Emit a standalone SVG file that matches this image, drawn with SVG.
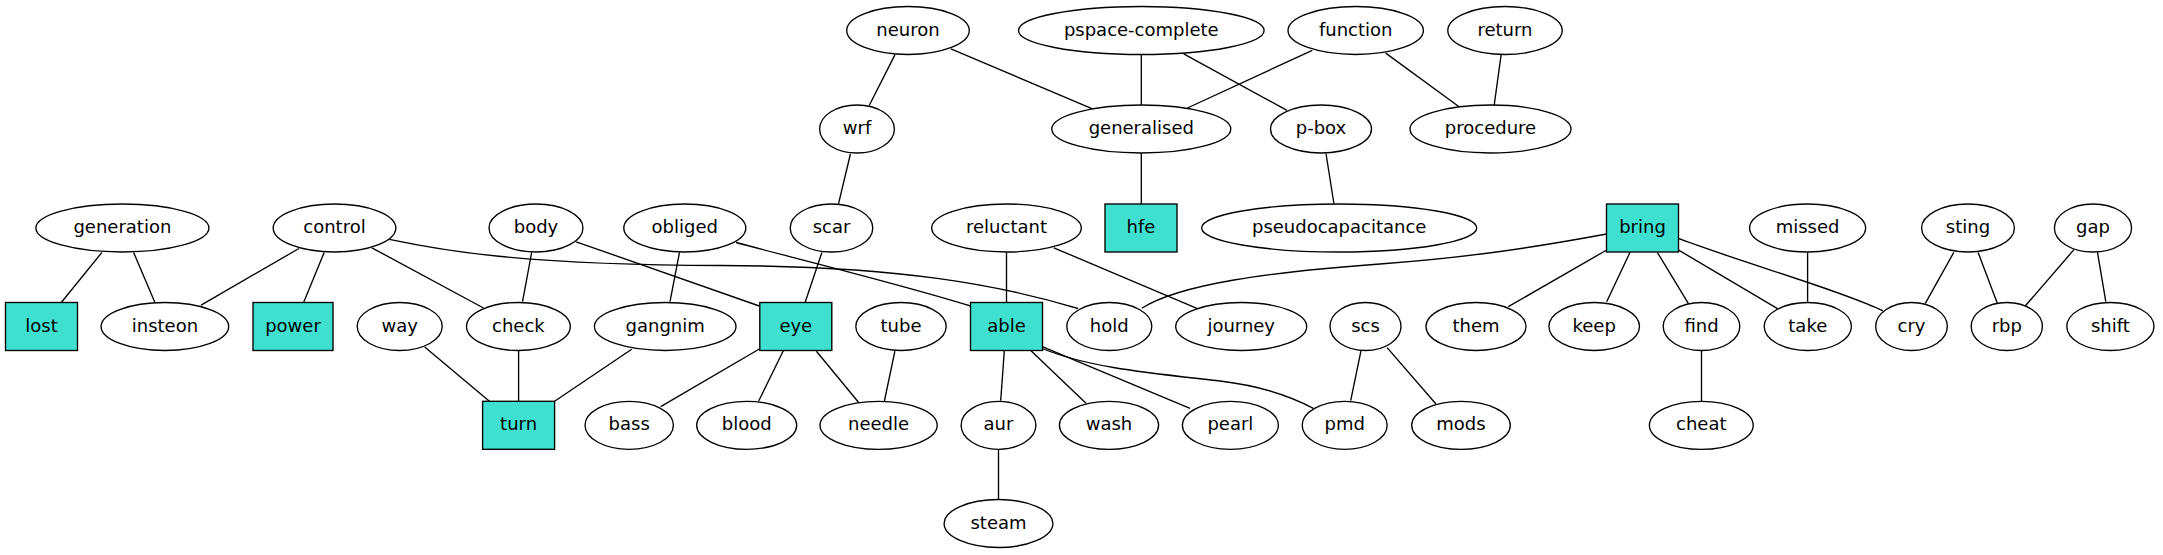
<svg xmlns="http://www.w3.org/2000/svg" width="2163" height="555" viewBox="0 0 2163 555">
<style>
.n ellipse{fill:#fff;stroke:#000;stroke-width:1.35}
.n rect{fill:#40e0d0;stroke:#000;stroke-width:1.35}
.n text{font-family:"DejaVu Sans","Liberation Sans",sans-serif;font-size:18px;text-anchor:middle;fill:#000}
#edges line,#edges path{stroke:#000;stroke-width:1.35;fill:none}
</style>
<rect width="2163" height="555" fill="#fff"/>
<g id="edges">
<line x1="101.9" y1="252.4" x2="61.1" y2="302.7"/>
<line x1="133.6" y1="252.4" x2="154.7" y2="302"/>
<line x1="298.9" y1="248.5" x2="201.1" y2="305.1"/>
<line x1="324.2" y1="252.4" x2="303.5" y2="302.7"/>
<line x1="371.9" y1="247.8" x2="483.5" y2="308"/>
<path d="M389.3,239.3 C440,250 520,265 720,265.5 C900,266 1000,285 1078,308.5"/>
<line x1="531.7" y1="252.4" x2="522.5" y2="301.6"/>
<line x1="576.2" y1="241.8" x2="759.3" y2="306"/>
<line x1="679.5" y1="252.4" x2="670" y2="301.7"/>
<path d="M736,242.5 C790,257 900,284 970.7,306"/>
<line x1="424.7" y1="346.9" x2="489.4" y2="401.3"/>
<line x1="518.6" y1="351" x2="518.6" y2="401.3"/>
<line x1="631.7" y1="349.3" x2="554.6" y2="401.3"/>
<line x1="759.3" y1="349" x2="660.7" y2="406.7"/>
<line x1="783.3" y1="350.7" x2="758.7" y2="401"/>
<line x1="816.4" y1="351.2" x2="858.7" y2="402.5"/>
<line x1="821.9" y1="252.4" x2="805" y2="302.7"/>
<line x1="850.4" y1="154" x2="838.5" y2="203.9"/>
<line x1="894.9" y1="54.9" x2="869.2" y2="105.5"/>
<line x1="950.9" y1="48.8" x2="1091.9" y2="108.7"/>
<line x1="1141.3" y1="54.5" x2="1141.3" y2="105"/>
<line x1="1183.7" y1="53.8" x2="1287" y2="110.4"/>
<line x1="1312.3" y1="50.3" x2="1187.4" y2="108"/>
<line x1="1385.7" y1="53.1" x2="1458.4" y2="106.2"/>
<line x1="1501.1" y1="54.9" x2="1494.2" y2="105.1"/>
<line x1="1141.3" y1="153" x2="1141.3" y2="204"/>
<line x1="1326" y1="153.5" x2="1333.9" y2="203.5"/>
<line x1="1006.5" y1="252.4" x2="1006.5" y2="302.7"/>
<line x1="1053.8" y1="247.8" x2="1197.5" y2="308.7"/>
<line x1="894.9" y1="351.2" x2="884.4" y2="401"/>
<line x1="1004.3" y1="350.7" x2="1000.7" y2="400.7"/>
<line x1="1031" y1="350.7" x2="1086" y2="403.3"/>
<line x1="1042.3" y1="346.7" x2="1190" y2="408.3"/>
<path d="M1042.3,348.5 C1090,368 1150,373 1220,381 C1262,386 1292,397 1313.3,408.3"/>
<line x1="998.5" y1="449.3" x2="998.5" y2="499.5"/>
<line x1="1361" y1="350.7" x2="1350.7" y2="400.7"/>
<line x1="1387.1" y1="347.6" x2="1436" y2="404"/>
<path d="M1606.7,234 C1520,250 1460,258 1380,264 C1270,272 1180,284 1141.7,308.3"/>
<line x1="1606.7" y1="250" x2="1508.3" y2="306.7"/>
<line x1="1630" y1="252.3" x2="1606.7" y2="301.7"/>
<line x1="1657.3" y1="252.3" x2="1688.3" y2="303.3"/>
<line x1="1677.8" y1="249.6" x2="1777.5" y2="308.7"/>
<path d="M1677.8,238.2 C1740,262 1840,290 1883,310.8"/>
<line x1="1807.6" y1="252.4" x2="1807.6" y2="301.6"/>
<line x1="1701.5" y1="351" x2="1701.5" y2="401"/>
<line x1="1953.8" y1="252.4" x2="1925.3" y2="303.4"/>
<line x1="1978.1" y1="252.4" x2="1997.4" y2="303.4"/>
<line x1="2074" y1="249.6" x2="2025.4" y2="305.8"/>
<line x1="2097.5" y1="252.4" x2="2105.8" y2="301.6"/>
</g>
<g class="n" id="neuron"><ellipse cx="908" cy="30.5" rx="61.3" ry="24"/><text x="908" y="35.5">neuron</text></g>
<g class="n" id="pspace-complete"><ellipse cx="1141.3" cy="30.5" rx="122.8" ry="24"/><text x="1141.3" y="35.5">pspace-complete</text></g>
<g class="n" id="function"><ellipse cx="1355.7" cy="30.5" rx="67.7" ry="24"/><text x="1355.7" y="35.5">function</text></g>
<g class="n" id="return"><ellipse cx="1505" cy="30.5" rx="57.2" ry="24"/><text x="1505" y="35.5">return</text></g>
<g class="n" id="wrf"><ellipse cx="857" cy="129" rx="37.4" ry="24"/><text x="857" y="134">wrf</text></g>
<g class="n" id="generalised"><ellipse cx="1141.3" cy="129" rx="89.5" ry="24"/><text x="1141.3" y="134">generalised</text></g>
<g class="n" id="p-box"><ellipse cx="1321" cy="129" rx="50.5" ry="24"/><text x="1321" y="134">p-box</text></g>
<g class="n" id="procedure"><ellipse cx="1490.5" cy="129" rx="80.5" ry="24"/><text x="1490.5" y="134">procedure</text></g>
<g class="n" id="generation"><ellipse cx="122.4" cy="228" rx="86.5" ry="24"/><text x="122.4" y="233">generation</text></g>
<g class="n" id="control"><ellipse cx="334.5" cy="228" rx="61.3" ry="24"/><text x="334.5" y="233">control</text></g>
<g class="n" id="body"><ellipse cx="536" cy="228" rx="47" ry="24"/><text x="536" y="233">body</text></g>
<g class="n" id="obliged"><ellipse cx="684.8" cy="228" rx="61" ry="24"/><text x="684.8" y="233">obliged</text></g>
<g class="n" id="scar"><ellipse cx="831.5" cy="228" rx="41.3" ry="24"/><text x="831.5" y="233">scar</text></g>
<g class="n" id="reluctant"><ellipse cx="1006.5" cy="228" rx="74.8" ry="24"/><text x="1006.5" y="233">reluctant</text></g>
<g class="n" id="hfe"><rect x="1105" y="204" width="72" height="48"/><text x="1141" y="233">hfe</text></g>
<g class="n" id="pseudocapacitance"><ellipse cx="1339.2" cy="228" rx="137.5" ry="24"/><text x="1339.2" y="233">pseudocapacitance</text></g>
<g class="n" id="bring"><rect x="1606.5" y="204" width="72" height="48"/><text x="1642.5" y="233">bring</text></g>
<g class="n" id="missed"><ellipse cx="1807.6" cy="228" rx="58" ry="24"/><text x="1807.6" y="233">missed</text></g>
<g class="n" id="sting"><ellipse cx="1968" cy="228" rx="46.4" ry="24"/><text x="1968" y="233">sting</text></g>
<g class="n" id="gap"><ellipse cx="2093" cy="228" rx="38.6" ry="24"/><text x="2093" y="233">gap</text></g>
<g class="n" id="lost"><rect x="5.5" y="302.5" width="72" height="48"/><text x="41.5" y="331.5">lost</text></g>
<g class="n" id="insteon"><ellipse cx="164.9" cy="326.5" rx="63.8" ry="24"/><text x="164.9" y="331.5">insteon</text></g>
<g class="n" id="power"><rect x="253" y="302.5" width="80" height="48"/><text x="293" y="331.5">power</text></g>
<g class="n" id="way"><ellipse cx="399.7" cy="326.5" rx="42.5" ry="24"/><text x="399.7" y="331.5">way</text></g>
<g class="n" id="check"><ellipse cx="518.4" cy="326.5" rx="51.9" ry="24"/><text x="518.4" y="331.5">check</text></g>
<g class="n" id="gangnim"><ellipse cx="665.2" cy="326.5" rx="70.8" ry="24"/><text x="665.2" y="331.5">gangnim</text></g>
<g class="n" id="eye"><rect x="759.8" y="302.5" width="72" height="48"/><text x="795.8" y="331.5">eye</text></g>
<g class="n" id="tube"><ellipse cx="901" cy="326.5" rx="45.2" ry="24"/><text x="901" y="331.5">tube</text></g>
<g class="n" id="able"><rect x="970.5" y="302.5" width="72" height="48"/><text x="1006.5" y="331.5">able</text></g>
<g class="n" id="hold"><ellipse cx="1109.3" cy="326.5" rx="42.5" ry="24"/><text x="1109.3" y="331.5">hold</text></g>
<g class="n" id="journey"><ellipse cx="1241.2" cy="326.5" rx="65.5" ry="24"/><text x="1241.2" y="331.5">journey</text></g>
<g class="n" id="scs"><ellipse cx="1365.5" cy="326.5" rx="35.5" ry="24"/><text x="1365.5" y="331.5">scs</text></g>
<g class="n" id="them"><ellipse cx="1476" cy="326.5" rx="50" ry="24"/><text x="1476" y="331.5">them</text></g>
<g class="n" id="keep"><ellipse cx="1594.2" cy="326.5" rx="45.3" ry="24"/><text x="1594.2" y="331.5">keep</text></g>
<g class="n" id="find"><ellipse cx="1701.5" cy="326.5" rx="38.3" ry="24"/><text x="1701.5" y="331.5">find</text></g>
<g class="n" id="take"><ellipse cx="1807.8" cy="326.5" rx="43.6" ry="24"/><text x="1807.8" y="331.5">take</text></g>
<g class="n" id="cry"><ellipse cx="1911.5" cy="326.5" rx="35.8" ry="24"/><text x="1911.5" y="331.5">cry</text></g>
<g class="n" id="rbp"><ellipse cx="2006.8" cy="326.5" rx="35.6" ry="24"/><text x="2006.8" y="331.5">rbp</text></g>
<g class="n" id="shift"><ellipse cx="2110.4" cy="326.5" rx="43.6" ry="24"/><text x="2110.4" y="331.5">shift</text></g>
<g class="n" id="turn"><rect x="482.6" y="401.3" width="72" height="48"/><text x="518.6" y="430.3">turn</text></g>
<g class="n" id="bass"><ellipse cx="629.2" cy="425.3" rx="44.2" ry="24"/><text x="629.2" y="430.3">bass</text></g>
<g class="n" id="blood"><ellipse cx="746.7" cy="425.3" rx="50" ry="24"/><text x="746.7" y="430.3">blood</text></g>
<g class="n" id="needle"><ellipse cx="878.6" cy="425.3" rx="58.6" ry="24"/><text x="878.6" y="430.3">needle</text></g>
<g class="n" id="aur"><ellipse cx="998.5" cy="425.3" rx="37.4" ry="24"/><text x="998.5" y="430.3">aur</text></g>
<g class="n" id="wash"><ellipse cx="1109" cy="425.3" rx="49.6" ry="24"/><text x="1109" y="430.3">wash</text></g>
<g class="n" id="pearl"><ellipse cx="1230.4" cy="425.3" rx="48" ry="24"/><text x="1230.4" y="430.3">pearl</text></g>
<g class="n" id="pmd"><ellipse cx="1344.7" cy="425.3" rx="42.5" ry="24"/><text x="1344.7" y="430.3">pmd</text></g>
<g class="n" id="mods"><ellipse cx="1461" cy="425.3" rx="49.3" ry="24"/><text x="1461" y="430.3">mods</text></g>
<g class="n" id="cheat"><ellipse cx="1701.3" cy="425.3" rx="51.9" ry="24"/><text x="1701.3" y="430.3">cheat</text></g>
<g class="n" id="steam"><ellipse cx="998.5" cy="523.5" rx="54.4" ry="24"/><text x="998.5" y="528.5">steam</text></g>
</svg>
